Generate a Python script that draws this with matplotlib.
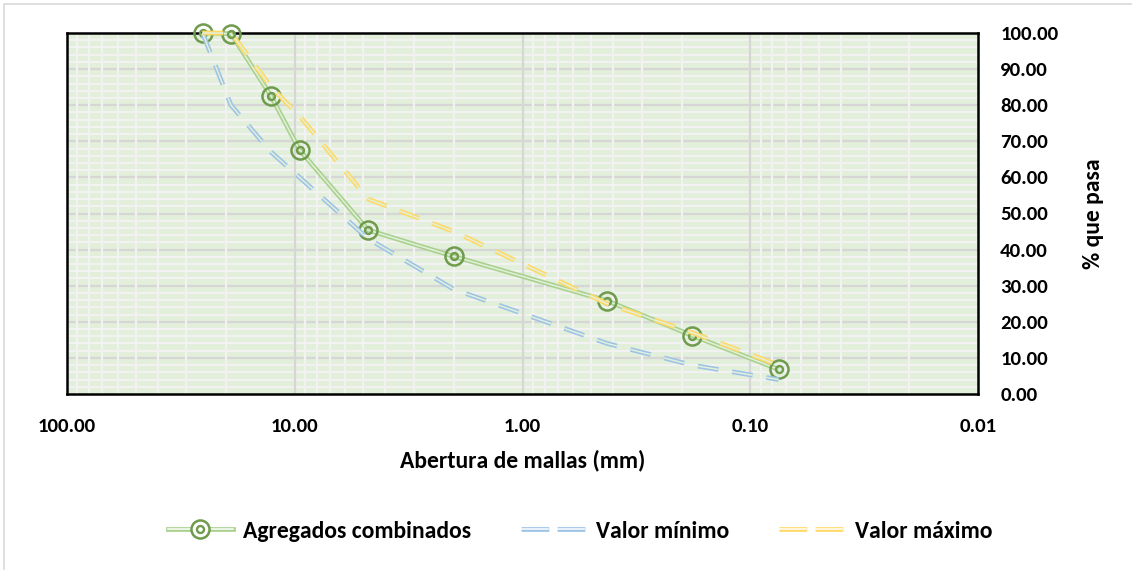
import matplotlib
matplotlib.use("Agg")
import matplotlib.pyplot as plt
from matplotlib.lines import Line2D
from matplotlib.legend_handler import HandlerTuple
from matplotlib.patches import Rectangle
from matplotlib.ticker import FixedLocator, FuncFormatter, NullFormatter, NullLocator

# ---------------- data ----------------
sieve_mm = [25.4, 19.05, 12.7, 9.525, 4.76, 2.00, 0.425, 0.18, 0.075]
combinados = [100.0, 99.8, 82.5, 67.6, 45.4, 38.1, 25.8, 16.2, 6.8]
valor_minimo = [100, 80, 67, 60, 43, 29, 14, 8, 4]
valor_maximo = [100, 100, 85, 77, 54, 45, 25, 17, 8]

x_ticks = [100, 10, 1, 0.1, 0.01]
y_ticks = [0, 10, 20, 30, 40, 50, 60, 70, 80, 90, 100]

series_names = ["Agregados combinados", "Valor mínimo", "Valor máximo"]
x_label = "Abertura de mallas (mm)"
y_label = "% que pasa"

# ---------------- style ----------------
FONT = ["Carlito", "DejaVu Sans"]
plt.rcParams["font.family"] = FONT
plt.rcParams["font.weight"] = "bold"
plt.rcParams["lines.scale_dashes"] = False

BG = "#E2EFDA"
GREEN_LINE = "#A9D18E"
GREEN_MK = "#6E9B4C"
BLUE = "#9DC3E6"
YELLOW = "#FFD966"
MINOR_C = "#F2F2F2"
MAJOR_C = "#D6D6D6"
OUTER_W = 3.4
INNER_W = 1.1
DASH = (15, 10)
TICK_FS = 15
TITLE_FS = 17

W, H = 1132, 570
fig = plt.figure(figsize=(W / 100, H / 100), dpi=100)
ax = fig.add_axes([67 / W, 1 - 394 / H, (978 - 67) / W, (394 - 33) / H])
ax.set_facecolor(BG)

ax.set_xscale("log")
ax.set_xlim(100, 0.01)
ax.set_ylim(0, 100)

ax.xaxis.set_major_locator(FixedLocator(x_ticks))
ax.xaxis.set_major_formatter(FuncFormatter(lambda v, p: f"{v:.2f}"))
ax.xaxis.set_minor_locator(NullLocator())
ax.xaxis.set_minor_formatter(NullFormatter())
ax.yaxis.set_major_locator(FixedLocator(y_ticks))
ax.yaxis.set_major_formatter(FuncFormatter(lambda v, p: f"{v:.2f}"))
ax.yaxis.set_minor_locator(NullLocator())
ax.yaxis.tick_right()
ax.yaxis.set_label_position("right")

ax.tick_params(which="both", length=0)
ax.tick_params(axis="x", pad=17, labelsize=TICK_FS)
ax.tick_params(axis="y", pad=16, labelsize=TICK_FS)

# grid (drawn manually to control stacking order)
minor_x = [m * 10.0 ** e for e in range(-2, 2) for m in range(2, 10)]
minor_y = [v for v in range(2, 100, 2) if v % 10]
for v in minor_y:
    ax.axhline(v, color=MINOR_C, lw=1.6, zorder=0.6)
for v in y_ticks[1:-1]:
    ax.axhline(v, color=MAJOR_C, lw=1.6, zorder=0.65)
for v in minor_x:
    ax.axvline(v, color=MINOR_C, lw=1.6, zorder=0.7)
for v in x_ticks[1:-1]:
    ax.axvline(v, color=MAJOR_C, lw=1.6, zorder=0.75)

for s in ax.spines.values():
    s.set_color("black")
    s.set_linewidth(1.8)
    s.set_zorder(2.5)

ax.set_xlabel(x_label, fontsize=TITLE_FS, fontweight="bold", labelpad=11)
ax.set_ylabel(y_label, fontsize=TITLE_FS, fontweight="bold", labelpad=18, rotation=90)


def double_line(xs, ys, color, z, dashed=False):
    kw = dict(clip_on=False, zorder=z)
    if dashed:
        kw.update(dashes=DASH, dash_capstyle="butt")
    else:
        kw.update(solid_joinstyle="round", solid_capstyle="butt")
    ax.plot(xs, ys, color=color, lw=OUTER_W, **kw)
    ax.plot(xs, ys, color=BG, lw=INNER_W, **kw)


# Agregados combinados
double_line(sieve_mm, combinados, GREEN_LINE, 3)
ax.plot(sieve_mm, combinados, ls="none", marker="o", ms=13, mfc="none",
        mec=GREEN_MK, mew=1.8, clip_on=False, zorder=3.2)
ax.plot(sieve_mm, combinados, ls="none", marker="o", ms=5, mfc="none",
        mec=GREEN_MK, mew=1.7, clip_on=False, zorder=3.2)
# Valor minimo / maximo
double_line(sieve_mm, valor_minimo, BLUE, 4, dashed=True)
double_line(sieve_mm, valor_maximo, YELLOW, 5, dashed=True)

# ---------------- legend ----------------
h_g = (Line2D([], [], color=GREEN_LINE, lw=OUTER_W),
       Line2D([], [], color="white", lw=INNER_W),
       Line2D([], [], ls="none", marker="o", ms=13, mfc="white", mec=GREEN_MK, mew=1.8),
       Line2D([], [], ls="none", marker="o", ms=5, mfc="none", mec=GREEN_MK, mew=1.7))


def proxy_dashed(color):
    return (Line2D([], [], color=color, lw=OUTER_W, dashes=(20, 6), dash_capstyle="butt"),
            Line2D([], [], color="white", lw=INNER_W, dashes=(20, 6), dash_capstyle="butt"))


h_b = proxy_dashed(BLUE)
h_y = proxy_dashed(YELLOW)
leg = fig.legend([h_g, h_b, h_y], series_names, loc="center",
                 bbox_to_anchor=(580 / W, 1 - 531 / H), ncol=3, frameon=False,
                 prop={"family": FONT, "weight": "bold", "size": TITLE_FS},
                 handlelength=2.75, handletextpad=0.45, columnspacing=2.1,
                 borderpad=0.2,
                 handler_map={tuple: HandlerTuple(ndivide=1, pad=0)})

# chart-area border
fig.add_artist(Rectangle((4 / W, -0.2), 1.5, 1.2 - 4 / H, transform=fig.transFigure,
                         fill=False, edgecolor="#D9D9D9", lw=1.2))

fig.savefig("out.png", dpi=100)
